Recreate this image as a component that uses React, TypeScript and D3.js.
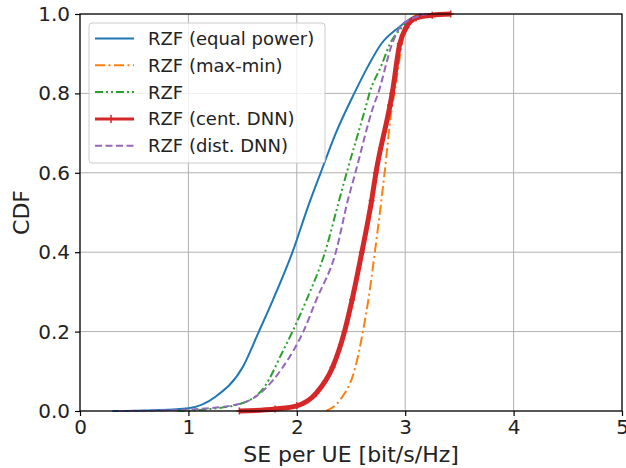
import React, { useEffect, useRef } from "react";
import * as d3 from "d3";

// tick values
const xTicks = [0, 1, 2, 3, 4, 5];
const yTicks = [0, 0.2, 0.4, 0.6, 0.8, 1.0];

// RZF (equal power)
const eqPowerSE = [0.3, 0.7, 1.0, 1.25, 1.5, 1.65, 1.78, 1.96, 2.11, 2.22, 2.36, 2.53, 2.66, 2.78, 2.94, 3.06, 3.15];
const eqPowerCDF = [0, 0.002, 0.007, 0.036, 0.11, 0.2, 0.28, 0.4, 0.52, 0.6, 0.7, 0.8, 0.87, 0.925, 0.966, 0.99, 1];

// RZF (max-min)
const maxMinSE = [2.27, 2.4, 2.54, 2.61, 2.66, 2.72, 2.78, 2.81, 2.88, 2.9, 2.97, 3.0, 3.06, 3.12];
const maxMinCDF = [0, 0.028, 0.11, 0.2, 0.28, 0.4, 0.53, 0.6, 0.77, 0.8, 0.925, 0.966, 0.99, 1];

// RZF
const rzfSE = [0.9, 1.2, 1.5, 1.7, 1.87, 1.96, 2.09, 2.26, 2.39, 2.46, 2.64, 2.67, 2.78, 2.86, 2.97, 3.08, 3.15];
const rzfCDF = [0, 0.005, 0.02, 0.06, 0.15, 0.2, 0.28, 0.4, 0.53, 0.6, 0.77, 0.8, 0.87, 0.925, 0.966, 0.99, 1];

// RZF (cent. DNN)
const centSE = [1.47, 1.8, 2.0, 2.18, 2.33, 2.44, 2.51, 2.6, 2.69, 2.73, 2.86, 2.88, 2.95, 3.01, 3.1, 3.25, 3.42];
const centCDF = [0, 0.005, 0.013, 0.045, 0.11, 0.2, 0.28, 0.4, 0.53, 0.6, 0.77, 0.8, 0.925, 0.966, 0.99, 0.997, 1];

// RZF (dist. DNN)
const distSE = [0.35, 0.8, 1.1, 1.5, 1.87, 2.06, 2.18, 2.36, 2.47, 2.54, 2.71, 2.75, 2.88, 2.95, 3.08, 3.2];
const distCDF = [0, 0.002, 0.005, 0.02, 0.11, 0.2, 0.28, 0.4, 0.53, 0.6, 0.77, 0.8, 0.925, 0.966, 0.99, 1];

const labels = ["RZF (equal power)", "RZF (max-min)", "RZF", "RZF (cent. DNN)", "RZF (dist. DNN)"];

export default function App() {
  const ref = useRef<SVGSVGElement>(null);

  useEffect(() => {
    const width = 626;
    const height = 468;
    const margin = { top: 14, left: 80, bottom: 57, right: 4 };
    const iwidth = width - margin.left - margin.right;
    const iheight = height - margin.top - margin.bottom;
    const font = "DejaVu Sans, sans-serif";

    const svg = d3.select(ref.current);
    svg.selectAll("*").remove();

    const g = svg.append("g").attr("transform", `translate(${margin.left},${margin.top})`);

    const x = d3.scaleLinear().domain([0, 5]).range([0, iwidth]);
    const y = d3.scaleLinear().domain([0, 1]).range([iheight, 0]);

    // grid
    g.append("g")
      .selectAll("line")
      .data(xTicks)
      .join("line")
      .attr("x1", (d) => x(d))
      .attr("x2", (d) => x(d))
      .attr("y1", 0)
      .attr("y2", iheight)
      .attr("stroke", "#b0b0b0")
      .attr("stroke-width", 1);
    g.append("g")
      .selectAll("line")
      .data(yTicks)
      .join("line")
      .attr("x1", 0)
      .attr("x2", iwidth)
      .attr("y1", (d) => y(d))
      .attr("y2", (d) => y(d))
      .attr("stroke", "#b0b0b0")
      .attr("stroke-width", 1);

    const series = [
      { name: labels[0], se: eqPowerSE, cdf: eqPowerCDF, color: "#1f77b4", dash: null, w: 2 },
      { name: labels[1], se: maxMinSE, cdf: maxMinCDF, color: "#ff7f0e", dash: "10,3.5,2,3.5", w: 2 },
      { name: labels[2], se: rzfSE, cdf: rzfCDF, color: "#2ca02c", dash: "8,3,2,3,2,3", w: 2 },
      { name: labels[3], se: centSE, cdf: centCDF, color: "#d62728", dash: null, w: 5 },
      { name: labels[4], se: distSE, cdf: distCDF, color: "#9467bd", dash: "7,3.5", w: 2 },
    ];

    const line = d3
      .line<[number, number]>()
      .x((d) => x(d[0]))
      .y((d) => y(d[1]))
      .curve(d3.curveMonotoneX);

    // draw order: same as legend
    series.forEach((s) => {
      const pts = s.se.map((v, i) => [v, s.cdf[i]] as [number, number]);
      g.append("path")
        .attr("d", line(pts))
        .attr("fill", "none")
        .attr("stroke", s.color)
        .attr("stroke-width", s.w)
        .attr("stroke-dasharray", s.dash)
        .attr("stroke-linejoin", "round");
      if (s.name === labels[3]) {
        g.append("g")
          .selectAll("path")
          .data(pts)
          .join("path")
          .attr("d", (d) => `M${x(d[0]) - 3},${y(d[1])}h6M${x(d[0])},${y(d[1]) - 3.5}v7`)
          .attr("stroke", s.color)
          .attr("stroke-width", 1.5);
      }
    });

    // frame
    g.append("rect")
      .attr("width", iwidth)
      .attr("height", iheight)
      .attr("fill", "none")
      .attr("stroke", "#000")
      .attr("stroke-width", 1.2);

    // x axis
    const xAxis = g
      .append("g")
      .attr("transform", `translate(0,${iheight})`)
      .call(d3.axisBottom(x).tickValues(xTicks).tickFormat(d3.format("d")).tickSize(5).tickPadding(4));
    // y axis
    const yAxis = g
      .append("g")
      .call(d3.axisLeft(y).tickValues(yTicks).tickFormat(d3.format(".1f")).tickSize(5).tickPadding(5));
    [xAxis, yAxis].forEach((a) => {
      a.select(".domain").remove();
      a.selectAll("line").attr("stroke", "#000").attr("stroke-width", 1.2);
      a.selectAll("text").attr("font-family", font).attr("font-size", 20).attr("fill", "#222");
    });

    // axis labels
    svg
      .append("text")
      .attr("x", margin.left + iwidth / 2)
      .attr("y", 462)
      .attr("text-anchor", "middle")
      .attr("font-family", font)
      .attr("font-size", 22)
      .attr("fill", "#222")
      .text("SE per UE [bit/s/Hz]");
    svg
      .append("text")
      .attr("transform", `translate(29,${margin.top + iheight / 2}) rotate(-90)`)
      .attr("text-anchor", "middle")
      .attr("font-family", font)
      .attr("font-size", 22)
      .attr("fill", "#222")
      .text("CDF");

    // legend
    const lg = svg.append("g").attr("transform", "translate(89,23)");
    lg.append("rect")
      .attr("width", 236)
      .attr("height", 140)
      .attr("rx", 3)
      .attr("fill", "#fff")
      .attr("fill-opacity", 0.8)
      .attr("stroke", "#cccccc");
    series.forEach((s, i) => {
      const yy = 15.5 + i * 26.8;
      lg.append("line")
        .attr("x1", 6)
        .attr("x2", 45)
        .attr("y1", yy)
        .attr("y2", yy)
        .attr("stroke", s.color)
        .attr("stroke-width", s.name === labels[3] ? 3 : 2)
        .attr("stroke-dasharray", s.dash);
      if (s.name === labels[3]) {
        lg.append("path")
          .attr("d", `M22,${yy - 4}v8M18,${yy}h8`)
          .attr("stroke", s.color)
          .attr("stroke-width", 1.5);
      }
      lg.append("text")
        .attr("x", 59)
        .attr("y", yy + 6.5)
        .attr("font-family", font)
        .attr("font-size", 18)
        .attr("fill", "#222")
        .text(s.name);
    });
  }, []);

  return <svg ref={ref} width={626} height={468} style={{ position: "absolute", left: 0, top: 0, background: "#fff" }} />;
}
